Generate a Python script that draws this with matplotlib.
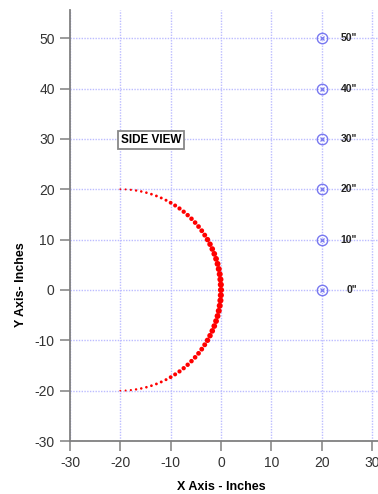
import matplotlib.pyplot as plt
import numpy as np

plt.rcParams['font.family'] = ['Liberation Sans', 'DejaVu Sans']
plt.rcParams['axes.unicode_minus'] = False

# side profile points, upper half (top -> middle)
x_up = [-20.0, -18.95, -17.91, -16.87, -15.84, -14.82, -13.82, -12.83, -11.87, -10.92,
        -10.0, -9.11, -8.24, -7.41, -6.62, -5.86, -5.14, -4.46, -3.82, -3.23,
        -2.68, -2.18, -1.73, -1.33, -0.98, -0.68, -0.44, -0.25, -0.11, -0.03, 0.0]
y_up = [20.0, 19.97, 19.89, 19.75, 19.56, 19.32, 19.02, 18.67, 18.27, 17.82,
        17.32, 16.77, 16.18, 15.54, 14.86, 14.14, 13.38, 12.59, 11.76, 10.89,
        10.0, 9.08, 8.13, 7.17, 6.18, 5.18, 4.16, 3.13, 2.09, 1.05, 0.0]
d_up = [1.8, 2.0, 2.2, 2.4, 2.5, 2.6, 2.7, 2.8, 2.9, 3.0,
        3.8, 4.0, 4.2, 4.3, 4.4, 4.5, 4.6, 4.7, 4.8, 4.9,
        5.4, 5.5, 5.6, 5.7, 5.8, 5.9, 6.0, 6.0, 6.1, 6.1, 6.1]

# lower half (middle -> bottom)
x_lo = [-0.03, -0.11, -0.25, -0.44, -0.68, -0.98, -1.33, -1.73, -2.18, -2.68,
        -3.23, -3.82, -4.46, -5.14, -5.86, -6.62, -7.41, -8.24, -9.11, -10.0,
        -10.92, -11.87, -12.83, -13.82, -14.82, -15.84, -16.87, -17.91, -18.95, -20.0]
y_lo = [-1.05, -2.09, -3.13, -4.16, -5.18, -6.18, -7.17, -8.13, -9.08, -10.0,
        -10.89, -11.76, -12.59, -13.38, -14.14, -14.86, -15.54, -16.18, -16.77, -17.32,
        -17.82, -18.27, -18.67, -19.02, -19.32, -19.56, -19.75, -19.89, -19.97, -20.0]
d_lo = [6.1, 6.1, 6.0, 6.0, 5.9, 5.8, 5.7, 5.6, 5.5, 5.4,
        4.9, 4.8, 4.7, 4.6, 4.5, 4.4, 4.3, 4.2, 4.0, 3.8,
        3.0, 2.9, 2.8, 2.7, 2.6, 2.5, 2.4, 2.2, 2.0, 1.8]

# height reference markers
ref_x = [20, 20, 20, 20, 20, 20]
ref_y = [0, 10, 20, 30, 40, 50]
ref_lbl = ['0"', '10"', '20"', '30"', '40"', '50"']

fig = plt.figure(figsize=(3.78, 4.94), dpi=100)
ax = fig.add_axes([70/378, 53/494, 308/378, 431/494])

xs = np.array(x_up + x_lo)
ys = np.array(y_up + y_lo)
ds = np.array(d_up + d_lo) * 0.72  # px -> pt
ax.scatter(xs, ys, s=ds**2, color='#ff0000', edgecolors='none', zorder=3)

ax.plot(ref_x, ref_y, 'o', ms=7.5, mfc='none', mec='#7878f0', mew=1.0, zorder=3)
ax.plot(ref_x, ref_y, 'x', ms=3, mec='#7878f0', mew=0.9, zorder=3)
for xi, yi, t in zip(ref_x, ref_y, ref_lbl):
    ax.text(xi + 7.0, yi, t, ha='right', va='center', fontsize=7.5,
            fontweight='bold', color='#222222')

ax.text(-13.9, 29.8, 'SIDE VIEW', ha='center', va='center', fontsize=8.5,
        fontweight='bold',
        bbox=dict(boxstyle='square,pad=0.25', fc='white', ec='#888888', lw=1.3))

ax.set_xlim(-30, 31.2)
ax.set_ylim(-30, 55.6)
ax.set_xticks(range(-30, 31, 10))
ax.set_yticks(range(-30, 51, 10))
ax.grid(True, color='#bcbcff', linestyle=(0, (1, 1)), linewidth=1.0)
ax.set_axisbelow(True)

for s in ['top', 'right']:
    ax.spines[s].set_visible(False)
for s in ['left', 'bottom']:
    ax.spines[s].set_color('#808080')
    ax.spines[s].set_linewidth(1.3)
ax.tick_params(direction='out', length=7, width=1.1, color='#808080',
               labelsize=10, labelcolor='#333333', pad=4)

ax.set_xlabel('X Axis - Inches', fontsize=9, fontweight='bold')
ax.xaxis.set_label_coords(0.49, -0.092)
ax.set_ylabel('Y Axis- Inches', fontsize=9, fontweight='bold')
ax.yaxis.set_label_coords(-0.14, 0.362)

plt.savefig('out.png', dpi=100)
